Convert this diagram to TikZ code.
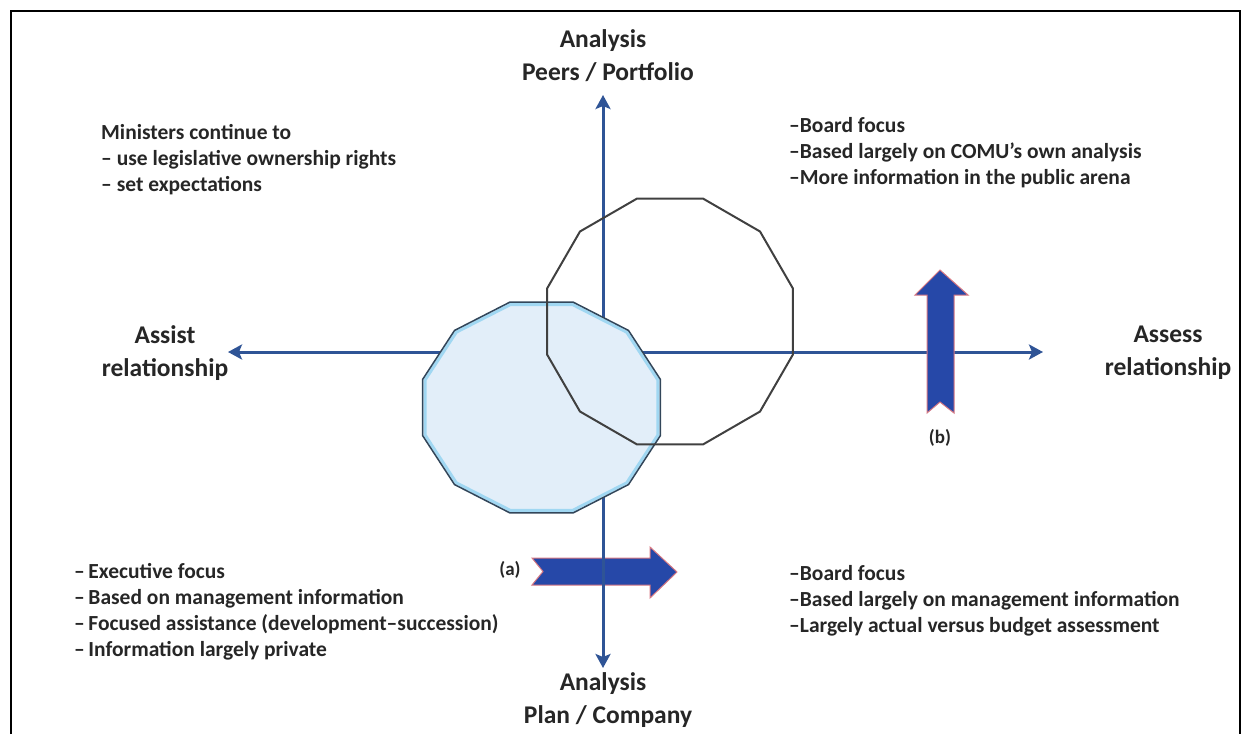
\documentclass[tikz,border=0pt]{standalone}
\usepackage{fontspec}
\setmainfont{Carlito}
\usetikzlibrary{arrows.meta,shapes.geometric}
\definecolor{axisblue}{RGB}{47,84,150}
\definecolor{blockblue}{RGB}{38,72,168}
\definecolor{blockedge}{RGB}{215,120,130}
\definecolor{polyfill}{RGB}{226,238,249}
\definecolor{polyglow}{RGB}{160,215,242}
\definecolor{polyedge}{RGB}{50,70,90}
\begin{document}
\begin{tikzpicture}[x=1pt,y=-1pt,
  axis/.style={draw=axisblue,line width=3pt,{Stealth[length=14pt,width=15pt,inset=3pt]}-{Stealth[length=14pt,width=15pt,inset=3pt]}},
  blockarrow/.style={fill=blockblue,draw=blockedge,line width=1pt,line join=miter},
  lbl/.style={font=\bfseries\fontsize{25.5}{33}\selectfont,align=center,inner sep=0pt,text=black!85},
  txt/.style={font=\bfseries\fontsize{21.5}{26}\selectfont,align=left,inner sep=0pt,anchor=west,text=black!85},
  tag/.style={font=\bfseries\fontsize{19}{22}\selectfont,inner sep=0pt,text=black!85},
  outlinepoly/.style={draw=black!75,line width=2pt},
]
\useasboundingbox (0,0) rectangle (1249,734);
\draw[line width=2pt] (11,734) -- (11,11) -- (1240,11) -- (1240,734);

% block arrow (a), under the axes
\path[blockarrow] (532,558) -- (650,558) -- (650,547) -- (677,572) -- (650,598) -- (650,585) -- (532,585) -- (543,571.5) -- cycle;

% axes
\coordinate (vt) at (603,95);
\coordinate (vb) at (603,668);
\coordinate (hl) at (228,352);
\coordinate (hr) at (1043,352);
\draw[axis] (vb) -- (vt);
\draw[axis] (hl) -- (hr);

% block arrow (b)
\path[blockarrow] (940,270) -- (968,295) -- (954,295) -- (954,413) -- (940,402) -- (927,413) -- (927,295) -- (915,295) -- cycle;

% filled dodecagon
\fill[polyfill] plot[samples at={15,45,...,345},variable=\t] ({541.5+123*cos(\t)},{407.5+109*sin(\t)}) -- cycle;
\draw[polyglow,line width=3pt,line join=miter] plot[samples at={15,45,...,345},variable=\t] ({541.5+120.5*cos(\t)},{407.5+106.5*sin(\t)}) -- cycle;
\draw[polyedge,line width=1.5pt,line join=miter] plot[samples at={15,45,...,345},variable=\t] ({541.5+123*cos(\t)},{407.5+109*sin(\t)}) -- cycle;

% outline dodecagon
\node[regular polygon,regular polygon sides=12,minimum size=254.6pt,inner sep=0pt,outlinepoly] (ring) at (670,321.5) {};

% axis labels
\node[lbl] (top) at (608,56) {Analysis\hspace*{10pt}\\Peers / Portfolio};
\node[lbl] (bot) at (608,700) {Analysis\hspace*{10pt}\\Plan / Company};
\node[lbl] (west) at (165,353) {Assist\\relationship};
\node[lbl] (east) at (1168,353) {Assess\\relationship};

% tags
\node[tag] (taga) at (510,570) {(a)};
\node[tag] (tagb) at (940,438) {(b)};

% text blocks
\node[txt] (tl) at (101,160) {Ministers continue to\\– use legislative ownership rights\\– set expectations};
\node[txt] (tr) at (789,153) {–Board focus\\–Based largely on COMU's own analysis\\–More information in the public arena};
\node[txt] (bl) at (74,612) {–\,Executive focus\\–\,Based on management information\\–\,Focused assistance (development–succession)\\–\,Information largely private};
\node[txt] (br) at (789,601) {–Board focus\\–Based largely on management information\\–Largely actual versus budget assessment};
\end{tikzpicture}
\end{document}
